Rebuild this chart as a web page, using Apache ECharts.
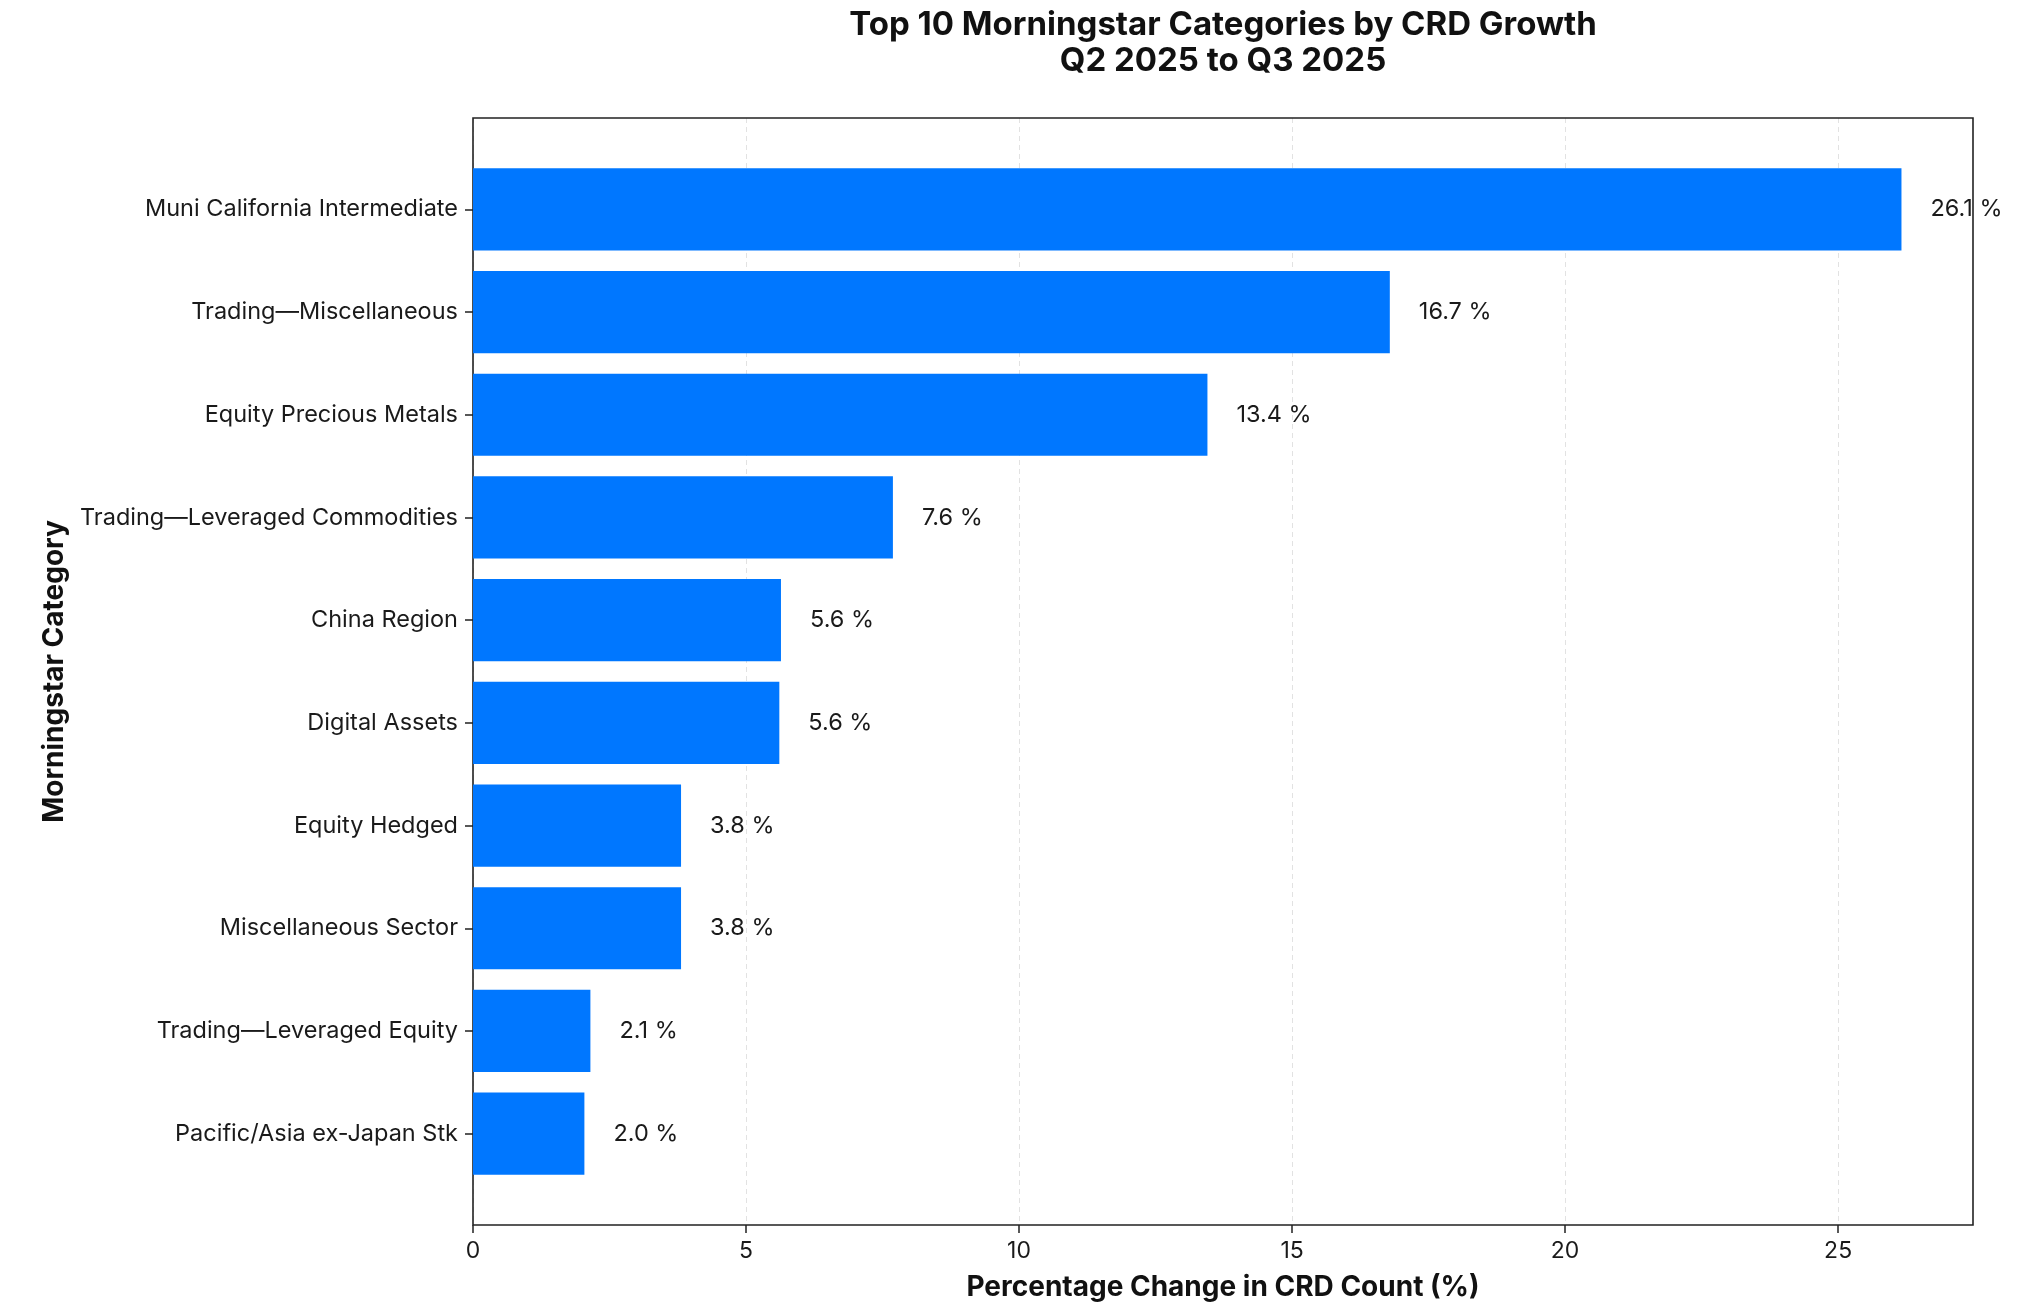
<!DOCTYPE html>
<html><head><meta charset="utf-8">
<script src="https://cdn.jsdelivr.net/npm/echarts@6/dist/echarts.min.js"></script>
<style>html,body{margin:0;padding:0;background:#fff}#c{width:2034px;height:1314px}</style>
</head><body><div id="c"></div>
<script>
const titleLines = ['Top 10 Morningstar Categories by CRD Growth', 'Q2 2025 to Q3 2025'];
const categories = ['Muni California Intermediate', 'Trading\u2014Miscellaneous', 'Equity Precious Metals', 'Trading\u2014Leveraged Commodities', 'China Region', 'Digital Assets', 'Equity Hedged', 'Miscellaneous Sector', 'Trading\u2014Leveraged Equity', 'Pacific/Asia ex-Japan Stk'];
const growthPct = [26.16, 16.79, 13.45, 7.69, 5.64, 5.61, 3.81, 3.81, 2.15, 2.04];
const xTicks = [0, 5, 10, 15, 20, 25];
const xMax = 27.47;
const xAxisName = 'Percentage Change in CRD Count (%)';
const yAxisName = 'Morningstar Category';

const FONT = 'Inter, "Noto Sans", sans-serif';
const TXT = '#1a1a1a';
const chart = echarts.init(document.getElementById('c'), null, {renderer: 'canvas'});
chart.setOption({
  backgroundColor: '#fff',
  animation: false,
  title: {
    text: titleLines.join('\n'),
    left: 1223, top: 7, padding: 0, textAlign: 'center',
    textStyle: {fontFamily: FONT, fontSize: 33, fontWeight: 'bold', color: '#111', lineHeight: 36}
  },
  grid: [
    {z: 1, left: 473, top: 118, width: 1500, height: 1107, show: true, borderColor: '#222', borderWidth: 1.6, backgroundColor: 'transparent', containLabel: false, outerBoundsMode: 'none'},
    {left: 473, top: 158, width: 1500, height: 1027, show: false, containLabel: false, outerBoundsMode: 'none'}
  ],
  xAxis: [
    {
      gridIndex: 0, type: 'value', min: 0, max: xMax, interval: 5,
      axisLine: {show: false},
      axisTick: {show: true, length: 8, customValues: xTicks, lineStyle: {color: '#222', width: 1.5}},
      axisLabel: {customValues: xTicks, fontSize: 23, fontFamily: FONT, color: TXT, margin: 15},
      splitLine: {show: true, lineStyle: {type: [5, 4], color: '#e2e2e2', width: 1}},
      name: xAxisName, nameLocation: 'middle', nameGap: 49,
      nameTextStyle: {fontFamily: FONT, fontSize: 28, fontWeight: 'bold', color: '#111'}
    },
    {gridIndex: 1, type: 'value', min: 0, max: xMax, show: false}
  ],
  yAxis: [
    {gridIndex: 0, type: 'value', min: 0, max: 1, show: false},
    {
      gridIndex: 1, type: 'category', data: categories, inverse: true,
      axisLine: {show: false},
      axisTick: {show: true, alignWithLabel: true, length: 8, lineStyle: {color: '#222', width: 1.5}},
      axisLabel: {fontSize: 23.5, fontFamily: FONT, color: TXT, margin: 15},
      splitLine: {show: false},
      name: yAxisName, nameLocation: 'middle', nameRotate: 90, nameGap: 404,
      nameTextStyle: {fontFamily: FONT, fontSize: 28, fontWeight: 'bold', color: '#111'}
    }
  ],
  series: [{
    type: 'bar', xAxisIndex: 1, yAxisIndex: 1, data: growthPct, barWidth: '80%',
    itemStyle: {color: '#0077FF'},
    label: {
      show: true, position: 'right', distance: 29, fontSize: 23.5, fontFamily: FONT, color: TXT,
      formatter: p => (Math.floor(p.value * 10 + 1e-6) / 10).toFixed(1) + ' %'
    }
  }]
});
</script></body></html>
